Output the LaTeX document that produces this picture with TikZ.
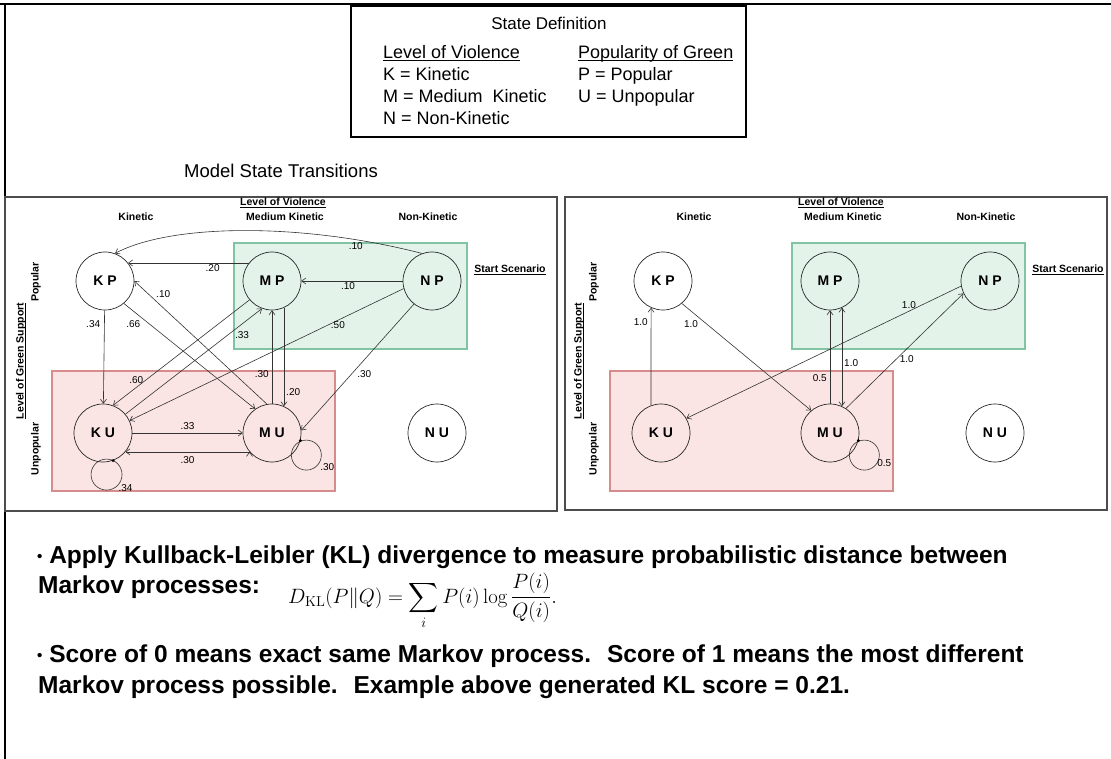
\documentclass[tikz,border=0pt]{standalone}
\usepackage[no-math]{fontspec}
\setmainfont{Liberation Sans}
\usepackage{amsmath}
\usetikzlibrary{arrows.meta, positioning}

\definecolor{startfill}{RGB}{227,243,233}
\definecolor{startline}{RGB}{128,196,164}
\definecolor{unpopfill}{RGB}{251,228,228}
\definecolor{unpopline}{RGB}{214,140,140}
\newcommand{\fsz}[2]{\fontsize{#1}{#2}\selectfont}
% underline that sits just under the baseline
\newsavebox{\ulbox}
\newcommand{\uln}[1]{\sbox{\ulbox}{#1}\rlap{\rule[-2pt]{\wd\ulbox}{0.9pt}}\usebox{\ulbox}}
\newcommand{\bul}{\raisebox{2pt}{\fsz{15}{18}•}\ }

\begin{document}
\begin{tikzpicture}[x=1pt, y=-1pt,
  state/.style={circle, draw=black!85, line width=0.7pt, minimum size=58pt, inner sep=0pt, font=\bfseries\fsz{14}{16}},
  hdr/.style={font=\bfseries\fsz{10.5}{12}, inner sep=0pt},
  prob/.style={font=\fsz{10}{12}, inner sep=1pt},
  trans/.style={draw=black!80, line width=0.6pt, -{Straight Barb[length=4pt,width=6pt]}},
  selfloop/.style={draw=black!80, line width=0.6pt},
  legend/.style={anchor=base west, inner sep=0pt, font=\fsz{18}{22}},
  bullet/.style={anchor=base west, inner sep=0pt, font=\bfseries\fsz{24.5}{30}}]

\useasboundingbox (0,0) rectangle (1111,759);
% page rules
\draw[line width=2pt] (0,4) -- (1111,4);
\draw[line width=2pt] (5,4) -- (5,759);

% legend of the state letters
\draw[line width=1.3pt] (351,6) rectangle (746,137);
\node[font=\fsz{17}{20}] (legtitle) at (549,23) {State Definition};
\node[legend] (violhead) at (383,59)  {\uln{Level of Violence}};
\node[legend] (kdef)     at (383,81)  {K = Kinetic};
\node[legend] (mdef)     at (383,103) {M = Medium\ \ Kinetic};
\node[legend] (ndef)     at (383,125) {N = Non-Kinetic};
\node[legend] (pophead)  at (578,59)  {\uln{Popularity of Green}};
\node[legend] (pdef)     at (578,81)  {P = Popular};
\node[legend] (udef)     at (578,103) {U = Unpopular};

\node[font=\fsz{18.5}{22}] (modeltitle) at (281,171) {Model State Transitions};

% the two panels
\draw[draw=black!70, line width=1.2pt] (5,197) rectangle (557,511);
\draw[draw=black!70, line width=1.2pt] (565,197) rectangle (1107,510);

\foreach \dx/\p in {0/L, 558/R} {
  \begin{scope}[xshift=\dx]
    \fill[startfill] (234,243) rectangle (467,349);
    \draw[startline, line width=1.4pt] (234,243) rectangle (467,349);
    \fill[unpopfill] (52,371) rectangle (335,491);
    \draw[unpopline, line width=1.4pt] (52,371) rectangle (335,491);

    \node[hdr] at (283,203) {\uln{Level of Violence}};
    \node[hdr] at (136,217) {Kinetic};
    \node[hdr] at (285,217) {Medium Kinetic};
    \node[hdr] at (428,217) {Non-Kinetic};
    \node[hdr] at (510,270) {\uln{Start Scenario}};
    \node[hdr, rotate=90] at (21,361) {\uln{Level of Green Support}};
    \node[hdr, rotate=90] at (36,282) {Popular};
    \node[hdr, rotate=90] at (36,449) {Unpopular};

    \node[state] (\p-KP) at (105,281) {K P};
    \node[state] (\p-MP) at (272,281) {M P};
    \node[state] (\p-NP) at (432,281) {N P};
    \node[state] (\p-KU) at (103,433) {K U};
    \node[state] (\p-MU) at (272,433) {M U};
    \node[state] (\p-NU) at (437,433) {N U};
  \end{scope}
}

% transitions of the model run
\draw[trans] (L-NP.110) .. controls (300,222) and (170,224) .. node[prob, pos=0.18, below=2pt] {.10} (L-KP.70);
\path[trans]
(L-MP.142) edge node[prob, pos=0.30, below=0pt] {.20} (L-KP.38)
(L-NP)     edge node[prob, pos=0.54, below] {.10} (L-MP)
(L-MU.100) edge node[prob, pos=0.85, above right=1pt] {.10} (L-KP.0)
(L-KP)     edge node[prob, pos=0.15, left=3pt] {.34} (L-KU)
(L-KP.310) edge node[prob, pos=0.14, below left=1pt] {.66} (L-MU.125)
(L-MP.220) edge node[prob, pos=0.83, above=3pt] {.60} (L-KU.70)
(L-KU.40)  edge node[prob, pos=0.75, right=6pt] {.33} (L-MP.250)
(L-NP.195) edge node[prob, pos=0.24, below=0pt] {.50} (L-KU.25)
(L-NP.232) edge node[prob, pos=0.55, right=4pt] {.30} (L-MU.5)
(L-MU)     edge node[prob, pos=0.32, left=2pt] {.30} (L-MP)
(L-MP.294) edge node[prob, pos=0.86, right=1pt] {.20} (L-MU.66)
(L-KU)     edge node[prob, midway, above=2pt] {.33} (L-MU)
(L-MU.220) edge node[prob, midway, below=3pt] {.30} (L-KU.320);
\draw[selfloop] (L-KU.290) ++(-6.5,14) circle[radius=15.5] ++(19,13) node[prob] {.34};
\draw[selfloop] (L-MU.345) ++(6,14.5) circle[radius=15] ++(21,12) node[prob] {.30};
\fill (L-KU.290) circle[radius=1.6];
\fill (L-MU.345) circle[radius=1.6];

% transitions of the compared process
\path[trans]
(R-KU.110) edge node[prob, pos=0.85, left=2pt] {1.0} (R-KP.246)
(R-KP.310) edge node[prob, pos=0.14, below left=1pt] {1.0} (R-MU.130)
(R-NP.190) edge node[prob, pos=0.19, above=1pt] {1.0} (R-KU.30)
(R-MU.57)  edge node[prob, pos=0.43, right=2pt] {1.0} (R-NP.205)
(R-MU)     edge node[prob, pos=0.27, left=2pt] {0.5} (R-MP)
(R-MP.294) edge node[prob, pos=0.56, right=1pt] {1.0} (R-MU.66);
\draw[selfloop] (R-MU.345) ++(6,14.5) circle[radius=15] ++(20,8) node[prob] {0.5};
\fill (R-MU.345) circle[radius=1.6];

% notes
\node[bullet] (note1a) at (37,563) {\bul Apply Kullback-Leibler (KL) divergence to measure probabilistic distance between};
\node[bullet] (note1b) at (38,593) {Markov processes:};
\node[anchor=base west, inner sep=0pt, font=\fsz{22}{26}] (kl) at (288,603)
  {$\displaystyle D_{\mathrm{KL}}(P\|Q) = \sum_i P(i)\log\frac{P(i)}{Q(i)}.$};
\node[bullet] (note2a) at (37,662) {\bul Score of 0 means exact same Markov process.~ Score of 1 means the most different};
\node[bullet] (note2b) at (38,693) {Markov process possible.~ Example above generated KL score = 0.21.};
\end{tikzpicture}
\end{document}
